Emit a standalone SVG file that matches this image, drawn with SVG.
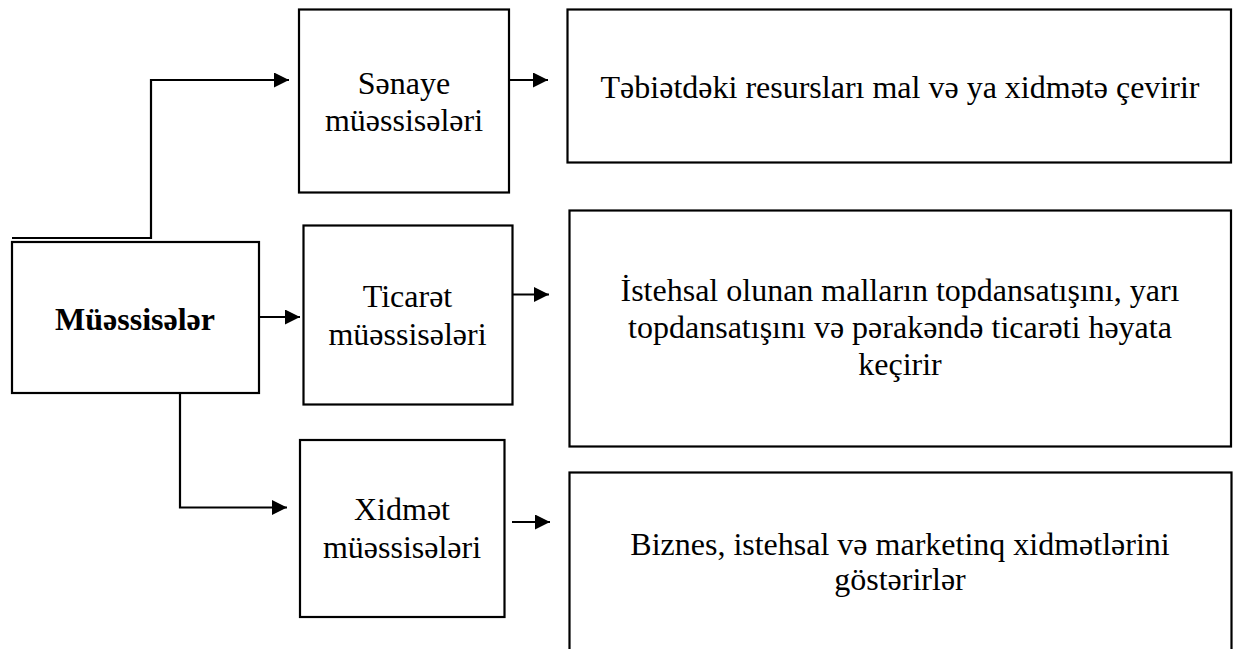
<svg xmlns="http://www.w3.org/2000/svg" width="1235" height="649" viewBox="0 0 1235 649">
  <style>
    .box { fill: #fff; stroke: #000; stroke-width: 2.2; }
    .lbl { font-family: "Liberation Serif", "Times New Roman", serif; font-size: 32px; fill: #000; text-anchor: middle; }
    .bold { font-weight: bold; }
    .wire { fill: none; stroke: #000; stroke-width: 2.2; marker-end: url(#head); }
  </style>
  <defs>
    <marker id="head" markerUnits="userSpaceOnUse" markerWidth="16" markerHeight="16" refX="15" refY="7.5" orient="auto">
      <path d="M0,0 L15,7.5 L0,15 z" fill="#000"/>
    </marker>
  </defs>
  <rect width="1235" height="649" fill="#fff"/>

  <!-- root -->
  <g id="muessiseler">
    <rect class="box" x="12" y="242" width="247" height="151"/>
    <text class="lbl bold" x="135" y="330">Müəssisələr</text>
  </g>

  <!-- categories -->
  <g id="senaye">
    <rect class="box" x="299" y="9.5" width="210" height="183"/>
    <text class="lbl" x="404" y="94">Sənaye</text>
    <text class="lbl" x="404" y="131">müəssisələri</text>
  </g>
  <g id="ticaret">
    <rect class="box" x="303.5" y="225.5" width="209" height="179"/>
    <text class="lbl" x="407.5" y="307">Ticarət</text>
    <text class="lbl" x="407.5" y="345">müəssisələri</text>
  </g>
  <g id="xidmet">
    <rect class="box" x="300" y="440" width="204.5" height="177"/>
    <text class="lbl" x="402" y="520">Xidmət</text>
    <text class="lbl" x="402" y="558">müəssisələri</text>
  </g>

  <!-- descriptions -->
  <g id="senaye-desc">
    <rect class="box" x="567.5" y="9.5" width="663.5" height="153"/>
    <text class="lbl" x="900" y="98">Təbiətdəki resursları mal və ya xidmətə çevirir</text>
  </g>
  <g id="ticaret-desc">
    <rect class="box" x="569.5" y="210.5" width="661.5" height="236"/>
    <text class="lbl" x="900" y="300.5">İstehsal olunan malların topdansatışını, yarı</text>
    <text class="lbl" x="900" y="337.5">topdansatışını və pərakəndə ticarəti həyata</text>
    <text class="lbl" x="900" y="374.5">keçirir</text>
  </g>
  <g id="xidmet-desc">
    <rect class="box" x="569.5" y="472.5" width="662" height="250"/>
    <text class="lbl" x="900" y="555">Biznes, istehsal və marketinq xidmətlərini</text>
    <text class="lbl" x="900" y="590">göstərirlər</text>
  </g>

  <!-- connectors -->
  <g id="connectors">
    <path class="wire" d="M12,238 H151 V80 H289"/>
    <path class="wire" d="M259,317 H300"/>
    <path class="wire" d="M180,393 V507.5 H287"/>
    <path class="wire" d="M509,80 H548"/>
    <path class="wire" d="M512,294.5 H549"/>
    <path class="wire" d="M512,522 H550"/>
  </g>
</svg>
